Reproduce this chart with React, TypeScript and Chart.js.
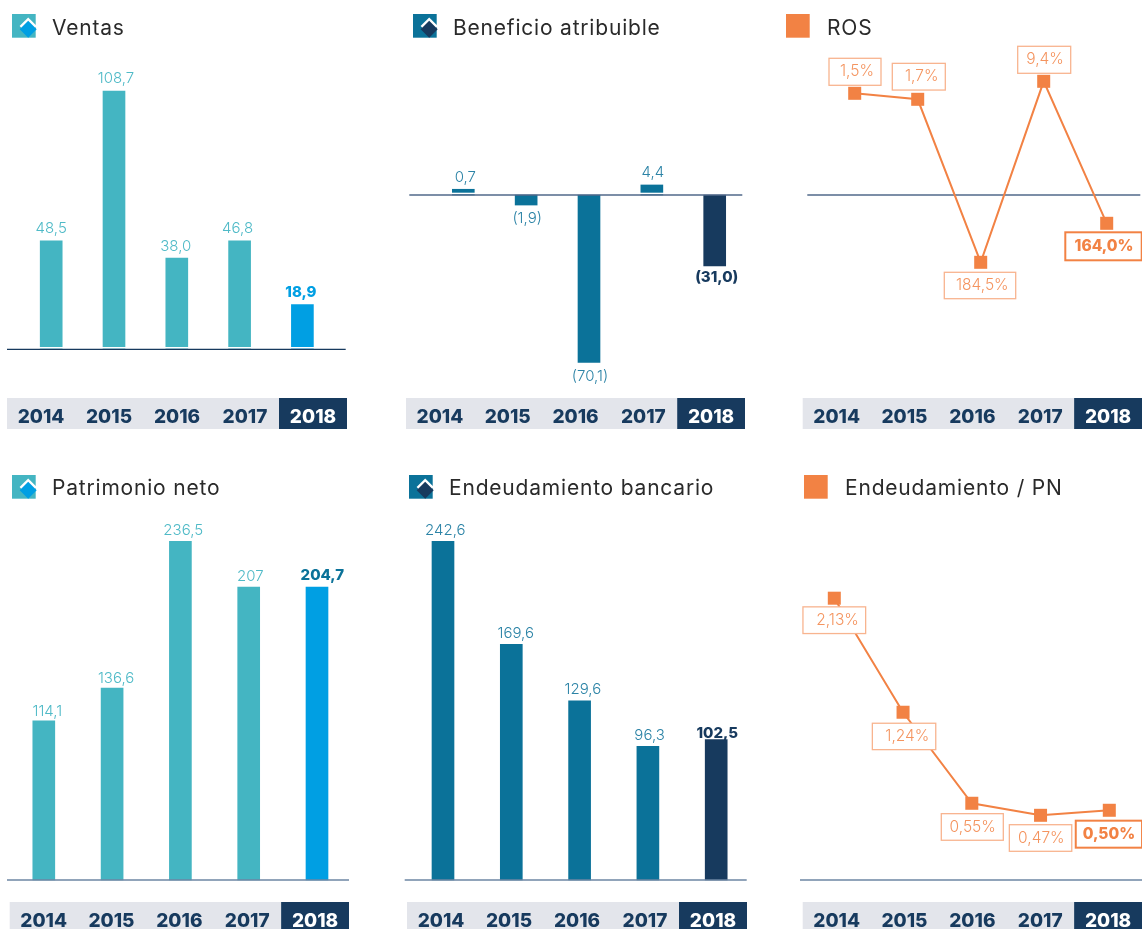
import React, { useEffect, useRef } from "react";
import { Chart, registerables } from "chart.js";

Chart.register(...registerables);

const FONT = "Inter, 'Noto Sans', sans-serif";
const NAVY = "#173A5E";
const TEAL = "#44B5C2";
const TEAL_TEXT = "#4FBAC7";
const SKY = "#009FE3";
const PETROL = "#0B7299";
const PETROL_TEXT = "#2B83A6";
const ORANGE = "#F28244";
const ORANGE_TEXT = "#F4945F";
const ORANGE_BORDER = "#F8B48F";
const STRIP = "#E3E5EB";

const years = ["2014", "2015", "2016", "2017", "2018"];

// Bar and point heights as they are drawn in the picture; printed labels beside them.
const ventasValues = [45.6, 108.7, 38.4, 45.7, 18.8];
const ventasLabels = ["48,5", "108,7", "38,0", "46,8", "18,9"];
const beneficioValues = [2.4, -4.2, -70.1, 4.2, -29.7];
const beneficioLabels = ["0,7", "(1,9)", "(70,1)", "4,4", "(31,0)"];
const rosValues = [101.7, 95.7, -67.3, 113.7, -28.3];
const rosLabels = ["1,5%", "1,7%", "184,5%", "9,4%", "164,0%"];
const patrimonioValues = [111.2, 134.1, 236.5, 204.6, 204.6];
const patrimonioLabels = ["114,1", "136,6", "236,5", "207", "204,7"];
const endeudamientoValues = [242.6, 168.8, 128.4, 95.8, 100.5];
const endeudamientoLabels = ["242,6", "169,6", "129,6", "96,3", "102,5"];
const pnValues = [2.13, 1.268, 0.58, 0.489, 0.527];
const pnLabels = ["2,13%", "1,24%", "0,55%", "0,47%", "0,50%"];

type Panel = any;

const ROW1 = { top: 40, bottom: 440, plotBottom: 398, stripBottom: 429 };
const ROW2 = { top: 502, bottom: 929, plotBottom: 902, stripBottom: 929 };

const panels: Panel[] = [
  {
    title: "Ventas", kind: "bar", icon: "teal", iconX: 12, iconY: 14, titleX: 52, titleY: 27.5, row: ROW1,
    canvasL: 0, canvasR: 385, stripL: 7, stripR: 347, lineL: 7, lineR: 345.7, zero: 349.3, unit: 2.376,
    first: 51.2, step: 62.8, values: ventasValues, labels: ventasLabels, gap: true, lineColor: NAVY,
    colors: [TEAL, TEAL, TEAL, TEAL, SKY], textColor: TEAL_TEXT, lastText: SKY,
    dx: [0, 2, -1, -2, -1.5], dy: [-12.5, -12.5, -12, -12, -12.5],
  },
  {
    title: "Beneficio atribuible", kind: "bar", icon: "petrol", iconX: 412.5, iconY: 14, titleX: 453, titleY: 27.5, row: ROW1,
    canvasL: 395, canvasR: 780, stripL: 406, stripR: 745, lineL: 409.3, lineR: 742.3, zero: 195, unit: 2.39,
    first: 463.3, step: 62.85, values: beneficioValues, labels: beneficioLabels, gap: true, lineColor: "#50698A",
    colors: [PETROL, PETROL, PETROL, PETROL, NAVY], textColor: PETROL_TEXT, lastText: NAVY,
    dx: [2, 1, 1, 1, 2], dy: [-11.6, 13.7, 14, -12, 11.7],
  },
  {
    title: "ROS", kind: "line", icon: "orange", iconX: 786, iconY: 14, titleX: 827, titleY: 27.5, row: ROW1,
    canvasL: 785, canvasR: 1142, stripL: 802.7, stripR: 1142, lineL: 807.3, lineR: 1140.3, zero: 195, unit: 1,
    first: 854.7, step: 63, values: rosValues, labels: rosLabels, lineColor: "#50698A",
    boxDx: [0.3, 1.1, -0.7, 0.5, -3.2], boxDy: [-21.5, -22.6, 23.2, -21.5, 23],
    boxW: [52, 53, 71.4, 53, 76.4], boxH: [27, 26.7, 26.4, 27, 28], textDx: [2, 2.9, 2.3, 0.8, 0.5],
  },
  {
    title: "Patrimonio neto", kind: "bar", icon: "teal", iconX: 12, iconY: 475, titleX: 52, titleY: 488, row: ROW2,
    canvasL: 0, canvasR: 385, stripL: 9.7, stripR: 349, lineL: 7, lineR: 349, zero: 880, unit: 1.432,
    first: 43.8, step: 68.3, values: patrimonioValues, labels: patrimonioLabels, gap: false, lineColor: "#6D86A3",
    colors: [TEAL, TEAL, TEAL, TEAL, SKY], textColor: TEAL_TEXT, lastText: PETROL,
    dx: [3.5, 4, 2.8, 1.6, 5.3], dy: [-9, -9.3, -10.6, -10.3, -11.3],
  },
  {
    title: "Endeudamiento bancario", kind: "bar", icon: "petrol", iconX: 408.5, iconY: 475, titleX: 449, titleY: 488, row: ROW2,
    canvasL: 395, canvasR: 780, stripL: 407, stripR: 747, lineL: 404.7, lineR: 746.7, zero: 880, unit: 1.396,
    first: 443, step: 68.3, values: endeudamientoValues, labels: endeudamientoLabels, gap: false, lineColor: "#6D86A3",
    colors: [PETROL, PETROL, PETROL, PETROL, NAVY], textColor: PETROL_TEXT, lastText: NAVY,
    dx: [2.3, 4.4, 3.3, 1.7, 1], dy: [-10.6, -10.6, -11, -10.6, -6.7],
  },
  {
    title: "Endeudamiento / PN", kind: "line", icon: "orange", iconX: 804, iconY: 475, titleX: 845, titleY: 488, row: ROW2,
    canvasL: 785, canvasR: 1142, stripL: 802.7, stripR: 1142, lineL: 800, lineR: 1142, zero: 880, unit: 132.3,
    first: 834.3, step: 68.75, values: pnValues, labels: pnLabels, lineColor: "#6D86A3",
    boxDx: [0, 1, 0.5, 0, -0.4], boxDy: [22, 24.2, 23.7, 22.7, 23.9],
    boxW: [62.7, 63.4, 62, 62.4, 66.3], boxH: [26.7, 26.4, 26.6, 26.6, 27], textDx: [3.3, 3.3, 0.4, 0.8, 0],
  },
];

function drawBaseline(chart: any, p: Panel) {
  const { ctx } = chart;
  const y = chart.scales.y.getPixelForValue(0);
  const l = p.lineL - p.canvasL;
  const r = p.lineR - p.canvasL;
  ctx.save();
  if (p.gap) {
    ctx.fillStyle = "#FFFFFF";
    ctx.fillRect(l, y - 2.3, r - l, 1.6);
  }
  ctx.strokeStyle = p.lineColor;
  ctx.lineWidth = 1.3;
  ctx.beginPath();
  ctx.moveTo(l, y);
  ctx.lineTo(r, y);
  ctx.stroke();
  ctx.restore();
}

function makePlugin(p: Panel) {
  return {
    id: "panelDecor",
    beforeDraw(chart: any) {
      const { ctx, chartArea } = chart;
      const cell = (chartArea.right - chartArea.left) / years.length;
      const h = p.row.stripBottom - p.row.plotBottom;
      ctx.save();
      ctx.fillStyle = STRIP;
      ctx.fillRect(chartArea.left, chartArea.bottom, cell * 4, h);
      ctx.fillStyle = NAVY;
      ctx.fillRect(chartArea.left + cell * 4, chartArea.bottom, cell, h);
      ctx.restore();
    },
    beforeDatasetsDraw(chart: any) {
      if (p.kind === "line") drawBaseline(chart, p);
    },
    afterDatasetsDraw(chart: any) {
      if (p.kind === "bar") drawBaseline(chart, p);
      const { ctx } = chart;
      const els = chart.getDatasetMeta(0).data;
      ctx.save();
      ctx.textAlign = "center";
      ctx.textBaseline = "middle";
      els.forEach((el: any, i: number) => {
        const last = i === els.length - 1;
        if (p.kind === "bar") {
          ctx.font = `${last ? 800 : 300} 15px ${FONT}`;
          ctx.fillStyle = last ? p.lastText : p.textColor;
          ctx.fillText(p.labels[i], el.x + p.dx[i], el.y + p.dy[i]);
        } else {
          ctx.font = `${last ? 800 : 300} 15.5px ${FONT}`;
          const cx = el.x + p.boxDx[i];
          const cy = el.y + p.boxDy[i];
          const w = p.boxW[i];
          const h = p.boxH[i];
          ctx.fillStyle = "#FFFFFF";
          ctx.strokeStyle = last ? ORANGE : ORANGE_BORDER;
          ctx.lineWidth = last ? 2 : 1.3;
          ctx.fillRect(cx - w / 2, cy - h / 2, w, h);
          ctx.strokeRect(cx - w / 2, cy - h / 2, w, h);
          ctx.fillStyle = last ? ORANGE : ORANGE_TEXT;
          ctx.fillText(p.labels[i], cx + p.textDx[i], cy);
        }
      });
      ctx.restore();
    },
  };
}

function PanelChart({ p }: { p: Panel }) {
  const ref = useRef<HTMLCanvasElement>(null);
  useEffect(() => {
    const points = p.values.map((v: number, i: number) => ({ x: i, y: v }));
    const dataset =
      p.kind === "bar"
        ? { data: points, xAxisID: "xb", backgroundColor: p.colors, barThickness: 22, borderWidth: 0 }
        : {
            data: points, xAxisID: "xb", borderColor: ORANGE, borderWidth: 2, tension: 0,
            pointStyle: "rect", pointRadius: 9.2, pointBackgroundColor: ORANGE, pointBorderWidth: 0,
            clip: false,
          };
    const plotH = p.row.plotBottom - p.row.top;
    const zeroOffset = p.zero - p.row.top;
    const chart = new Chart(ref.current as any, {
      type: p.kind,
      data: { labels: years, datasets: [dataset as any] },
      plugins: [makePlugin(p)],
      options: {
        animation: false,
        responsive: false,
        devicePixelRatio: 1,
        layout: { autoPadding: false, padding: { left: p.stripL - p.canvasL, right: p.canvasR - p.stripR, top: 0, bottom: 0 } },
        plugins: { legend: { display: false }, tooltip: { enabled: false }, title: { display: false } },
        scales: {
          x: {
            type: "category",
            labels: years,
            offset: true,
            position: "bottom",
            grid: { display: false, drawTicks: false },
            border: { display: false },
            afterFit: (s: any) => { s.height = p.row.bottom - p.row.plotBottom; },
            ticks: {
              autoSkip: false,
              maxRotation: 0,
              padding: 8,
              font: { family: FONT, size: 19, weight: "800" },
              color: (c: any) => (c.index === 4 ? "#FFFFFF" : NAVY),
            },
          },
          xb: {
            type: "linear",
            display: false,
            offset: false,
            min: (p.stripL - p.first) / p.step,
            max: (p.stripR - p.first) / p.step,
          },
          y: {
            type: "linear",
            display: false,
            min: -(plotH - zeroOffset) / p.unit,
            max: zeroOffset / p.unit,
          },
        },
      } as any,
    });
    return () => chart.destroy();
  }, [p]);
  return (
    <canvas
      ref={ref}
      width={p.canvasR - p.canvasL}
      height={p.row.bottom - p.row.top}
      style={{ position: "absolute", left: p.canvasL, top: p.row.top, display: "block" }}
    />
  );
}

function Icon({ p }: { p: Panel }) {
  const base = p.icon === "teal" ? TEAL : p.icon === "petrol" ? PETROL : ORANGE;
  const diamond = p.icon === "teal" ? SKY : NAVY;
  return (
    <svg
      width={26}
      height={25}
      viewBox="0 0 26 25"
      style={{ position: "absolute", left: p.iconX, top: p.iconY, overflow: "visible" }}
    >
      <rect x={0} y={0} width={23.7} height={23.7} fill={base} />
      {p.icon !== "orange" && (
        <>
          <path d="M16.2 3.4 L24.8 12 L16.2 20.6 L7.6 12 Z" fill="#FFFFFF" />
          <path d="M16.2 6.8 L24.7 15.2 L16.2 23.7 L7.7 15.2 Z" fill={diamond} />
        </>
      )}
    </svg>
  );
}

export default function App() {
  return (
    <div style={{ position: "absolute", left: 0, top: 0, width: 1142, height: 929, overflow: "hidden", background: "#FFFFFF" }}>
      {panels.map((p) => (
        <React.Fragment key={p.title}>
          <PanelChart p={p} />
          <Icon p={p} />
          <div
            style={{
              position: "absolute", left: p.titleX, top: p.titleY - 15, height: 30,
              font: `400 21px ${FONT}`, lineHeight: "30px", letterSpacing: 0.8, color: "#2A2A2A", whiteSpace: "nowrap",
            }}
          >
            {p.title}
          </div>
        </React.Fragment>
      ))}
    </div>
  );
}
